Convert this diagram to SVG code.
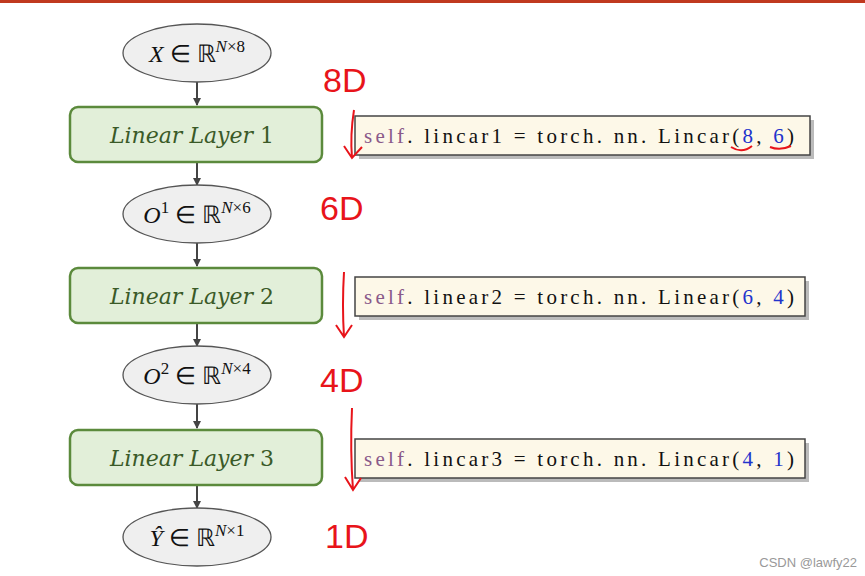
<svg xmlns="http://www.w3.org/2000/svg" width="865" height="576" viewBox="0 0 865 576">
<defs>
<style>
.ell{fill:#efefef;stroke:#555;stroke-width:1.3}
.lay{fill:#e2efd9;stroke:#5b8a3c;stroke-width:2.5}
.lt{font-family:"DejaVu Serif",serif;font-style:italic;font-size:22px;fill:#3a5a28;text-anchor:middle}
.mt{font-family:"Liberation Serif",serif;font-size:24px;fill:#111;text-anchor:middle}
.code{fill:#fdf8e8;stroke:#444;stroke-width:1.5}
.ct{font-family:"Liberation Serif",serif;font-size:21px;fill:#111}
.hw{font-family:"Liberation Sans",sans-serif;font-size:34px;fill:#e8141a}
.red{stroke:#e8141a;stroke-width:2;fill:none}
.con{stroke:#444;stroke-width:2;fill:none}
</style>
<marker id="ah" markerWidth="8" markerHeight="8" refX="7" refY="4" orient="auto" markerUnits="userSpaceOnUse"><path d="M0,0L8,4L0,8z" fill="#444"/></marker>
</defs>
<rect width="865" height="576" fill="#fff"/>
<rect x="0" y="0" width="865" height="3" fill="#c0391f"/>
<g id="connectors">
<line class="con" x1="197" y1="82" x2="197" y2="105" marker-end="url(#ah)"/>
<line class="con" x1="197" y1="163" x2="197" y2="185" marker-end="url(#ah)"/>
<line class="con" x1="197" y1="243" x2="197" y2="266" marker-end="url(#ah)"/>
<line class="con" x1="197" y1="324" x2="197" y2="346" marker-end="url(#ah)"/>
<line class="con" x1="197" y1="404" x2="197" y2="428" marker-end="url(#ah)"/>
<line class="con" x1="197" y1="486" x2="197" y2="508" marker-end="url(#ah)"/>
</g>
<g id="x"><ellipse class="ell" cx="197" cy="53" rx="74" ry="29"/><text class="mt" x="197" y="62"><tspan font-style="italic">X</tspan> ∈ ℝ<tspan font-size="17" dy="-10" font-style="italic">N</tspan><tspan font-size="17">×8</tspan></text></g>
<g id="l1"><rect class="lay" x="70" y="107" width="252" height="55" rx="8"/><text class="lt" x="192" y="143">Linear Layer <tspan font-style="normal">1</tspan></text></g>
<g id="o1"><ellipse class="ell" cx="197" cy="214" rx="74" ry="29"/><text class="mt" x="197" y="223"><tspan font-style="italic">O</tspan><tspan font-size="17" dy="-10">1</tspan><tspan dy="10"> ∈ ℝ</tspan><tspan font-size="17" dy="-10" font-style="italic">N</tspan><tspan font-size="17">×6</tspan></text></g>
<g id="l2"><rect class="lay" x="70" y="268" width="252" height="55" rx="8"/><text class="lt" x="192" y="304">Linear Layer <tspan font-style="normal">2</tspan></text></g>
<g id="o2"><ellipse class="ell" cx="197" cy="375" rx="74" ry="29"/><text class="mt" x="197" y="384"><tspan font-style="italic">O</tspan><tspan font-size="17" dy="-10">2</tspan><tspan dy="10"> ∈ ℝ</tspan><tspan font-size="17" dy="-10" font-style="italic">N</tspan><tspan font-size="17">×4</tspan></text></g>
<g id="l3"><rect class="lay" x="70" y="430" width="252" height="55" rx="8"/><text class="lt" x="192" y="466">Linear Layer <tspan font-style="normal">3</tspan></text></g>
<g id="y"><ellipse class="ell" cx="197" cy="537" rx="74" ry="29"/><text class="mt" x="197" y="546"><tspan font-style="italic">Ŷ</tspan> ∈ ℝ<tspan font-size="17" dy="-10" font-style="italic">N</tspan><tspan font-size="17">×1</tspan></text></g>
<g id="code1"><rect x="359" y="120" width="455" height="39" fill="#bbb"/><rect class="code" x="355" y="116" width="455" height="39"/><text class="ct" x="364" y="143" textLength="430" lengthAdjust="spacing"><tspan fill="#8a5a8a">self</tspan>. lincar1 = torch. nn. Lincar(<tspan fill="#2233cc">8</tspan>, <tspan fill="#2233cc">6</tspan>)</text></g>
<g id="code2"><rect x="359" y="281" width="450" height="39" fill="#bbb"/><rect class="code" x="355" y="277" width="450" height="39"/><text class="ct" x="364" y="304" textLength="430" lengthAdjust="spacing"><tspan fill="#8a5a8a">self</tspan>. linear2 = torch. nn. Linear(<tspan fill="#2233cc">6</tspan>, <tspan fill="#2233cc">4</tspan>)</text></g>
<g id="code3"><rect x="359" y="443" width="450" height="39" fill="#bbb"/><rect class="code" x="355" y="439" width="450" height="39"/><text class="ct" x="364" y="466" textLength="430" lengthAdjust="spacing"><tspan fill="#8a5a8a">self</tspan>. lincar3 = torch. nn. Lincar(<tspan fill="#2233cc">4</tspan>, <tspan fill="#2233cc">1</tspan>)</text></g>
<g id="annotations">
<text class="hw" x="323" y="92">8D</text>
<text class="hw" x="320" y="220">6D</text>
<text class="hw" x="320" y="392">4D</text>
<text class="hw" x="325" y="548">1D</text>
<path class="red" d="M354,110 Q350,135 352,158 M344,146 L352,158 L362,147"/>
<path class="red" d="M344,272 Q342,305 344,337 M336,325 L344,337 L352,325"/>
<path class="red" d="M352,408 Q350,450 353,490 M345,477 L353,490 L361,478"/>
<path class="red" d="M731,147 Q742,154 752,146 M770,147 Q780,151 791,146"/>
</g>
<text x="857" y="567" font-family="Liberation Sans,sans-serif" font-size="13" fill="#999" text-anchor="end">CSDN @lawfy22</text>
</svg>
